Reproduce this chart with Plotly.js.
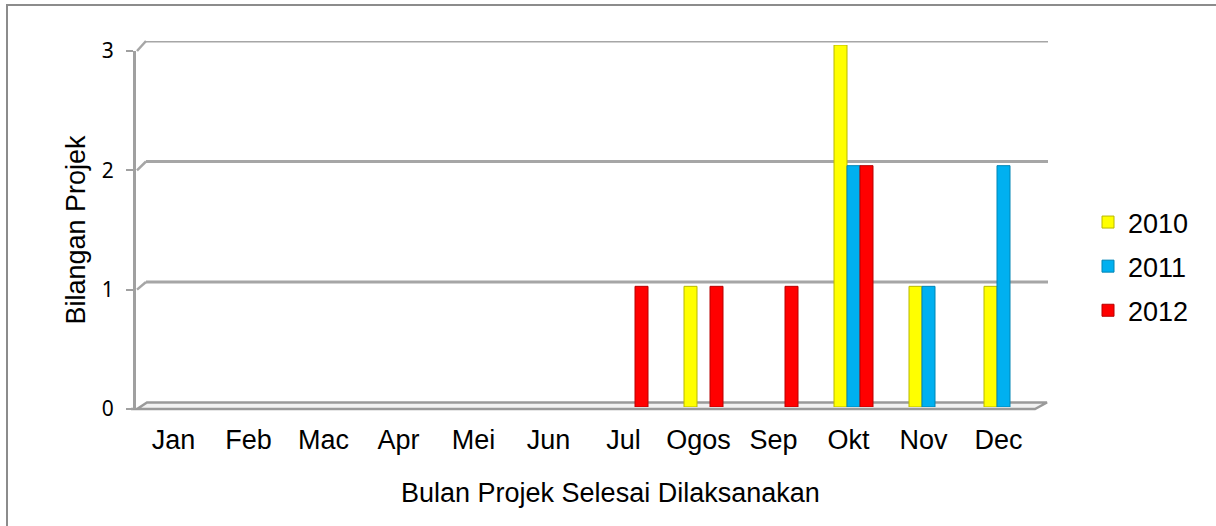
<!DOCTYPE html>
<html>
<head>
<meta charset="utf-8">
<script src="https://cdn.plot.ly/plotly-3.0.1.min.js"></script>
<style>html,body{margin:0;padding:0;background:#fff;}#chart{width:1216px;height:526px;}</style>
</head>
<body>
<div id="chart"></div>
<script>
const months = ["Jan","Feb","Mac","Apr","Mei","Jun","Jul","Ogos","Sep","Okt","Nov","Dec"];
const years = ["2010","2011","2012"];
const v2010 = [0,0,0,0,0,0,0,1,0,3,1,1];
const v2011 = [0,0,0,0,0,0,0,0,0,2,1,2];
const v2012 = [0,0,0,0,0,0,1,1,1,2,0,0];
const yTicks = [0,1,2,3];
const colors = ["#FFFF00","#00B0F0","#FF0000"];
const edges = ["#b8b800","#0085b5","#b80000"];
const xTitle = "Bulan Projek Selesai Dilaksanakan";
const yTitle = "Bilangan Projek";

const W = 1216, H = 526;
const px = x => x / W;
const py = y => 1 - y / H;

const series = [v2010, v2011, v2012];
const traces = series.map((s, i) => ({
  type: "bar",
  name: years[i],
  x: months,
  y: s.map(v => v === 0 ? null : v),
  xaxis: "x", yaxis: "y",
  legendgroup: years[i],
  marker: {color: colors[i], line: {color: edges[i], width: 1}},
  hoverinfo: "x+y+name"
}));
// helper traces so the label axes and the back wall axes get their categories
traces.push({type: "scatter", mode: "markers", x: months, y: months.map(() => 0),
  xaxis: "x2", yaxis: "y2", marker: {opacity: 0}, showlegend: false, hoverinfo: "skip"});
traces.push({type: "scatter", mode: "markers", x: months, y: months.map(() => 0),
  xaxis: "x3", yaxis: "y3", marker: {opacity: 0}, showlegend: false, hoverinfo: "skip"});

// 3D-look decorations (front ticks to back wall)
const frontY = v => 409 - v * (409 - 51) / 3;
const backY = v => 402.5 - v * (402.5 - 41) / 3;
const shapes = [];
// outer frame
shapes.push({type: "rect", xref: "paper", yref: "paper", x0: px(7), x1: px(1240), y0: py(5), y1: py(560),
  line: {color: "#8c8c8c", width: 2}, fillcolor: "rgba(0,0,0,0)", layer: "below"});
// floor
shapes.push({type: "path", xref: "paper", yref: "paper",
  path: `M ${px(131)} ${py(409)} L ${px(1035)} ${py(409)} L ${px(1047)} ${py(402.5)} L ${px(147)} ${py(402.5)} L ${px(137)} ${py(409)}`,
  fillcolor: "#f2f2f2", line: {color: "#9a9a9a", width: 2.5}, layer: "below"});
// back wall gridlines
yTicks.slice(1).forEach(v => {
  shapes.push({type: "line", xref: "x3 domain", yref: "y3", x0: 0, x1: 1, y0: v, y1: v,
    line: {color: "#a6a6a6", width: 3}, layer: "below"});
});
// diagonal connectors
yTicks.slice(1).forEach(v => {
  shapes.push({type: "line", xref: "paper", yref: "paper", x0: px(137), y0: py(frontY(v)), x1: px(146), y1: py(backY(v)),
    line: {color: "#a6a6a6", width: 2.5}, layer: "below"});
});

const layout = {
  width: W, height: H,
  margin: {l: 0, r: 0, t: 0, b: 0, pad: 0},
  paper_bgcolor: "#ffffff", plot_bgcolor: "rgba(0,0,0,0)",
  font: {family: "Liberation Sans, Arial, sans-serif", color: "#000", size: 20},
  barmode: "group", bargap: 0.48, bargroupgap: 0,
  showlegend: true,
  legend: {x: px(1088), y: py(198), xanchor: "left", yanchor: "top",
    font: {size: 27, color: "#000"}, traceorder: "grouped", tracegroupgap: 6,
    bgcolor: "rgba(0,0,0,0)", itemclick: false},
  xaxis: {domain: [px(141), px(1041)], anchor: "y", type: "category", categoryorder: "array", categoryarray: months,
    range: [-0.5, 11.5], showticklabels: false, ticks: "", showgrid: false, zeroline: false, showline: false, fixedrange: true},
  yaxis: {domain: [py(407), py(45)], anchor: "x", range: [0, 3], showticklabels: false, ticks: "",
    showgrid: false, zeroline: false, showline: false, fixedrange: true},
  xaxis2: {domain: [px(136), px(1036)], anchor: "y2", type: "category", categoryorder: "array", categoryarray: months,
    range: [-0.5, 11.5], showgrid: false, zeroline: false, showline: false, ticks: "",
    tickfont: {size: 27, family: "Liberation Sans, Arial, sans-serif"}, ticklabelstandoff: 12,
    fixedrange: true},
  yaxis2: {domain: [py(409), py(51)], anchor: "x2", range: [0, 3], tickvals: yTicks, ticktext: yTicks.map(String),
    showgrid: false, zeroline: false, showline: true, linecolor: "#a0a0a0", linewidth: 3,
    ticks: "outside", ticklen: 7, tickwidth: 2, tickcolor: "#a0a0a0",
    tickfont: {size: 21, family: "Noto Sans, DejaVu Sans, sans-serif"}, ticklabelstandoff: 8,
    title: {text: yTitle, font: {size: 27}, standoff: 9}, fixedrange: true},
  xaxis3: {domain: [px(146), px(1048)], anchor: "y3", type: "category", categoryarray: months, categoryorder: "array",
    showticklabels: false, ticks: "", showgrid: false, zeroline: false, showline: false, fixedrange: true},
  yaxis3: {domain: [py(402.5), py(41)], anchor: "x3", range: [0, 3], showticklabels: false, ticks: "",
    showgrid: false, zeroline: false, showline: false, fixedrange: true},
  annotations: [{text: xTitle, xref: "paper", yref: "paper", x: px(610), y: py(493),
    xanchor: "center", yanchor: "middle", showarrow: false, font: {size: 27, color: "#000"}}],
  shapes: shapes
};

Plotly.newPlot("chart", traces, layout, {displayModeBar: false, staticPlot: true});
</script>
</body>
</html>
